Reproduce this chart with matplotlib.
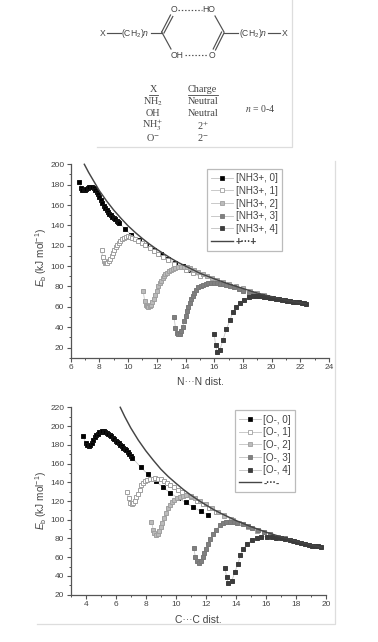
import matplotlib
matplotlib.use("Agg")
import matplotlib.pyplot as plt
from matplotlib.lines import Line2D
from matplotlib.ticker import MultipleLocator

plt.rcParams['font.family'] = ['Liberation Sans', 'DejaVu Sans']
plt.rcParams['mathtext.fontset'] = 'custom'
plt.rcParams['mathtext.rm'] = 'Liberation Sans'
plt.rcParams['mathtext.it'] = 'Liberation Sans:italic'

W, H = 378, 642
TXT = '#444444'
AX = '#555555'

# ---------- upper chart data ----------
n0_x = [6.6, 6.72, 6.8, 6.9, 7.0, 7.1, 7.2, 7.3, 7.4, 7.5, 7.6, 7.7, 7.8, 7.9, 8.0, 8.1, 8.2, 8.3, 8.4, 8.5, 8.6, 8.7, 8.8, 8.9, 9.0, 9.1, 9.2, 9.3, 9.4, 9.77, 10.2, 10.74, 11.23, 11.78, 12.27, 12.78, 13.3, 13.8, 14.33]
n0_y = [183, 177, 175, 175, 175, 176, 177, 178, 178, 178, 177, 175, 173, 171, 168, 165, 162, 159, 157, 155, 153, 151, 150, 148, 147, 146, 144, 143, 142, 136.7, 130.8, 125.5, 120.6, 116, 111.7, 107, 103, 100, 96]
n1_x = [8.15, 8.22, 8.3, 8.38, 8.45, 8.55, 8.65, 8.75, 8.85, 8.95, 9.05, 9.15, 9.25, 9.35, 9.45, 9.55, 9.7, 9.85, 10.0, 10.15, 10.3, 10.5, 10.7, 10.95, 11.2, 11.5, 11.8, 12.1, 12.45, 12.8, 13.2, 13.6, 14.0, 14.5, 15.0]
n1_y = [116, 109, 105, 103.5, 103, 103.5, 105, 107, 110, 113, 116, 119, 121, 123, 125, 126.5, 128, 129, 129.5, 129, 128, 126.5, 125, 123, 120.5, 117.5, 114.5, 112, 108.5, 105.5, 102.5, 99, 96.5, 93, 90]
n2_x = [11.05, 11.15, 11.25, 11.33, 11.4, 11.5, 11.6, 11.7, 11.8, 11.9, 12.0, 12.1, 12.2, 12.3, 12.4, 12.5, 12.6, 12.7, 12.85, 13.0, 13.15, 13.3, 13.5, 13.7, 13.9, 14.1, 14.3, 14.6, 14.9, 15.2, 15.5, 15.85, 16.2, 16.6, 17.0, 17.5, 18.0, 18.5, 19.0, 19.5]
n2_y = [76, 66, 62, 60.5, 60, 60.5, 62, 65, 68, 72, 76, 80, 83, 85.5, 88, 90, 92, 93.5, 95, 96.5, 97.5, 98.5, 99, 99.5, 99.5, 99, 98, 96.5, 94, 92, 90.5, 88.5, 86.5, 84, 82.5, 80, 78, 75.5, 74, 72]
n3_x = [13.2, 13.3, 13.4, 13.5, 13.6, 13.7, 13.8, 13.9, 14.0, 14.1, 14.2, 14.3, 14.4, 14.5, 14.6, 14.75, 14.9, 15.05, 15.2, 15.4, 15.6, 15.8, 16.0, 16.2, 16.4, 16.6, 16.85, 17.1, 17.4, 17.7, 18.0, 18.4, 18.8, 19.2, 19.6, 20.0]
n3_y = [50, 39, 34, 33, 33.5, 36, 40, 46, 51, 56, 60, 64, 68, 71, 74, 77, 79, 80.5, 81.5, 82.5, 83, 83, 83, 83, 82.5, 82, 81.5, 80.5, 79, 77.5, 76, 74, 72.5, 71, 69.5, 68.5]
n4_x = [16.0, 16.1, 16.2, 16.4, 16.6, 16.85, 17.1, 17.3, 17.55, 17.8, 18.1, 18.45, 18.7, 18.9, 19.1, 19.3, 19.5, 19.7, 19.9, 20.1, 20.3, 20.5, 20.7, 20.9, 21.1, 21.3, 21.5, 21.7, 21.9, 22.1, 22.25, 22.4]
n4_y = [33, 22, 15.5, 18, 27, 38, 47, 55, 60, 64, 67, 70, 70.5, 71, 71, 70.5, 70, 69.5, 69, 68.5, 68, 67.5, 67, 66.5, 66, 65.5, 65, 64.8, 64.3, 64, 63.6, 63.2]
n_curve_x = [6.95, 7.25, 7.5, 8, 8.5, 9, 9.5, 10, 10.5, 11, 11.5, 12, 12.5, 13, 13.5, 14, 15, 16, 17, 18, 19, 20, 21, 22.4]
n_curve_y = [200, 192, 186, 174, 164, 155, 147, 139.5, 133, 127, 121.5, 116.5, 112, 107.5, 103.5, 100, 93, 87.5, 82.5, 78, 73.5, 70, 66.5, 63]
n_labels = ['[NH3+, 0]', '[NH3+, 1]', '[NH3+, 2]', '[NH3+, 3]', '[NH3+, 4]']
n_curve_label = '+···+'
n_xticks = [6, 8, 10, 12, 14, 16, 18, 20, 22, 24]
n_yticks = [20, 40, 60, 80, 100, 120, 140, 160, 180, 200]

# ---------- lower chart data ----------
o0_x = [3.82, 4.0, 4.1, 4.2, 4.3, 4.4, 4.5, 4.6, 4.7, 4.8, 4.9, 5.0, 5.1, 5.2, 5.3, 5.4, 5.5, 5.6, 5.7, 5.8, 5.9, 6.0, 6.1, 6.2, 6.3, 6.4, 6.5, 6.6, 6.7, 6.8, 6.9, 7.0, 7.1, 7.65, 8.13, 8.65, 9.13, 9.6, 10.13, 10.65, 11.13, 11.65, 12.15]
o0_y = [189.3, 182, 180, 179, 180, 182, 185, 188, 190.5, 192, 193.5, 194, 194.5, 194.6, 194, 193, 192, 190.5, 189, 187.5, 186, 184.5, 183, 181.5, 180, 178.5, 177, 175.5, 174, 172.5, 170.5, 168.5, 166, 156.4, 148.6, 141.4, 134.7, 129, 123.2, 118.6, 113.6, 109.3, 105]
o1_x = [6.73, 6.85, 6.95, 7.07, 7.17, 7.27, 7.38, 7.48, 7.6, 7.7, 7.82, 7.95, 8.1, 8.27, 8.45, 8.6, 8.8, 9.0, 9.2, 9.4, 9.6, 9.85, 10.13, 10.4, 10.7, 11.0, 11.4, 11.8, 12.2, 12.7, 13.2, 13.8]
o1_y = [129.7, 123, 118, 116.5, 117.5, 120, 124, 128, 132, 137, 139, 141, 142.5, 143, 144, 144.5, 144, 143, 141.5, 139, 137, 134.5, 132, 129.5, 126.5, 124, 120, 116.5, 113, 108.5, 105, 100]
o2_x = [8.38, 8.5, 8.58, 8.67, 8.78, 8.88, 8.98, 9.08, 9.2, 9.33, 9.47, 9.6, 9.75, 9.9, 10.05, 10.25, 10.45, 10.7, 11.0, 11.3, 11.6, 12.0, 12.4, 12.8, 13.2, 13.7, 14.2, 14.8, 15.4]
o2_y = [98, 89, 86, 84, 85, 88, 92.5, 97, 102, 107, 113, 116, 119, 121, 123, 124.5, 125.5, 126, 125.5, 123.5, 120.5, 116.5, 112, 108, 104.5, 100.5, 96.5, 92, 88]
o3_x = [11.2, 11.3, 11.42, 11.53, 11.65, 11.8, 11.9, 12.0, 12.15, 12.3, 12.5, 12.7, 12.95, 13.15, 13.35, 13.6, 13.85, 14.1, 14.47, 14.8, 15.1, 15.5, 15.9, 16.3, 16.8, 17.3, 17.8]
o3_y = [70, 60, 56, 54, 55.5, 60, 64, 68.5, 74, 79, 85, 89.5, 94, 96, 97.5, 98, 98, 97, 95, 93, 91, 89, 87, 85, 82, 80, 77.5]
o4_x = [13.27, 13.38, 13.5, 13.73, 13.93, 14.13, 14.3, 14.5, 14.75, 15.05, 15.4, 15.7, 16.05, 16.4, 16.7, 17.0, 17.3, 17.6, 17.85, 18.1, 18.35, 18.6, 18.85, 19.1, 19.3, 19.5, 19.7]
o4_y = [49, 39, 32.5, 35, 44, 53, 62, 69, 74, 78, 81, 82, 82, 81.5, 81, 80.5, 79, 78, 77, 76, 75, 74, 73.5, 72.5, 72, 71.5, 71]
o_curve_x = [6.3, 6.6, 7, 7.5, 8, 8.5, 9, 9.5, 10, 10.5, 11, 11.5, 12, 12.5, 13, 14, 15, 16, 17, 18, 19, 19.7]
o_curve_y = [220, 210, 198, 185, 173.6, 163.5, 154, 146, 139, 132.3, 126.3, 120.8, 115.8, 111, 106.8, 99.2, 92.6, 86.8, 81.7, 77.2, 73.1, 70.5]
o_labels = ['[O-, 0]', '[O-, 1]', '[O-, 2]', '[O-, 3]', '[O-, 4]']
o_curve_label = '-···-'
o_xticks = [4, 6, 8, 10, 12, 14, 16, 18, 20]
o_yticks = [20, 40, 60, 80, 100, 120, 140, 160, 180, 200, 220]

face = ['#000000', '#ffffff', '#bbbbbb', '#808080', '#3c3c3c']
edge = ['#111111', '#a0a0a0', '#a0a0a0', '#787878', '#3c3c3c']
CURVE = '#454545'


def box(l, t, r, b):
    return [l / W, 1 - b / H, (r - l) / W, (b - t) / H]


fig = plt.figure(figsize=(W / 100, H / 100), dpi=100, facecolor='white')


def chart(rect, xs, ys, cx, cy, labels, clabel, xlim, ylim, xticks, yticks,
          xlabel, legend_box, xlab_xy, ylab_xy):
    ax = fig.add_axes(box(*rect))
    ax.patch.set_alpha(0)
    for x, y, fc, ec in zip(xs, ys, face, edge):
        ax.plot(x, y, '-', color='#c8c8c8', lw=0.6, marker='s', ms=3.5,
                mfc=fc, mec=ec, mew=0.7, clip_on=False)
    ax.plot(cx, cy, '-', color=CURVE, lw=1.05, clip_on=False)
    ax.set_xlim(*xlim)
    ax.set_ylim(*ylim)
    ax.set_xticks(xticks)
    ax.set_yticks(yticks)
    ax.xaxis.set_minor_locator(MultipleLocator(1))
    ax.yaxis.set_minor_locator(MultipleLocator(10))
    ax.tick_params(which='major', length=3, width=0.8, color=AX, labelsize=6,
                   labelcolor=TXT, pad=1.6)
    ax.tick_params(which='minor', length=1.6, width=0.7, color=AX)
    for s in ('top', 'right'):
        ax.spines[s].set_visible(False)
    for s in ('left', 'bottom'):
        ax.spines[s].set_color(AX)
        ax.spines[s].set_linewidth(0.9)
    fig.text(xlab_xy[0] / W, 1 - xlab_xy[1] / H, xlabel, fontsize=7.4,
             color=TXT, ha='center', va='center')
    fig.text(ylab_xy[0] / W, 1 - ylab_xy[1] / H, r'$E_{\mathrm{b}}$ (kJ mol$^{-1}$)',
             fontsize=7.2, color=TXT, ha='center', va='center', rotation=90)
    handles = [Line2D([], [], color='#c0c0c0', lw=0.6, marker='s', ms=3, mfc=fc,
                      mec=ec, mew=0.6) for fc, ec in zip(face, edge)]
    handles.append(Line2D([], [], color=CURVE, lw=1.0))
    l, t, r, b = legend_box
    leg = ax.legend(handles, labels + [clabel], loc='center',
                    bbox_to_anchor=((l + r) / 2 / W, 1 - (t + b) / 2 / H),
                    bbox_transform=fig.transFigure, fontsize=7.1, frameon=True,
                    fancybox=False, edgecolor='#bbbbbb', framealpha=1,
                    handlelength=2.2, handletextpad=0.25, labelspacing=0.27,
                    borderpad=0.42, borderaxespad=0, labelcolor=TXT)
    leg.get_frame().set_linewidth(0.9)
    leg.get_texts()[-1].set_fontweight('bold')
    return ax


chart((70.7, 164.3, 329, 357.7), [n0_x, n1_x, n2_x, n3_x, n4_x],
      [n0_y, n1_y, n2_y, n3_y, n4_y], n_curve_x, n_curve_y, n_labels,
      n_curve_label, (6, 24), (10, 200), n_xticks, n_yticks, 'N···N dist.',
      (206, 170.7, 283, 249), (200, 382), (41, 257))
chart((70.7, 407.3, 326, 594.7), [o0_x, o1_x, o2_x, o3_x, o4_x],
      [o0_y, o1_y, o2_y, o3_y, o4_y], o_curve_x, o_curve_y, o_labels,
      o_curve_label, (3, 20), (20, 220), o_xticks, o_yticks, 'C···C dist.',
      (234, 411.7, 296, 490.7), (198, 620), (41, 500))

# ---------- structure panel, page rules ----------
pg = fig.add_axes([0, 0, 1, 1], zorder=-1)
pg.set_xlim(0, W)
pg.set_ylim(H, 0)
pg.axis('off')
RULE = '#dddddd'
pg.plot([97, 292.3, 292.3], [147, 147, 0], color=RULE, lw=0.9)
pg.plot([335, 335, 37], [161, 624, 624], color=RULE, lw=0.9)

BOND = '#505050'
segs = [((107.3, 120.7), (33, 33)), ((150.7, 161.7), (33, 33)),
        ((224, 238.3), (33, 33)), ((268, 280), (33, 33)),
        ((161.7, 171), (32, 49)), ((224, 215), (32, 16)),
        ((161.7, 170.5), (32, 15)), ((164, 172.8), (33, 16.5)),
        ((224, 215.5), (33, 50)), ((221.6, 213.2), (32, 49))]
for sx, sy in segs:
    pg.plot(sx, sy, color=BOND, lw=0.85)
pg.plot([178.3, 201.7], [9.5, 9.5], color=BOND, lw=0.85, ls=(0, (1.2, 1.6)))
pg.plot([185, 206.7], [55, 55], color=BOND, lw=0.85, ls=(0, (1.2, 1.6)))

chem = [(102.3, 33, 'X'), (135, 33, r'(CH$_2$)$\mathit{n}$'), (174, 10, 'O'), (209, 10, 'HO'),
        (253.3, 33, r'(CH$_2$)$\mathit{n}$'), (285, 33, 'X'), (176.7, 55, 'OH'), (212.3, 55, 'O')]
for x, y, s in chem:
    pg.text(x, y, s, fontsize=6.2, color=TXT, ha='center', va='center')

table = [(153, 90, 'X'), (202.7, 90, 'Charge'),
         (153, 101.7, r'NH$_2$'), (202.7, 101.7, 'Neutral'),
         (153, 113.7, 'OH'), (202.7, 113.7, 'Neutral'),
         (153, 125, r'NH$_3^{+}$'), (202.7, 125.7, r'2$^{+}$'),
         (153, 137.8, r'O$^{-}$'), (202.7, 137.3, r'2$^{-}$')]
for x, y, s in table:
    pg.text(x, y, s, fontsize=7.3, color=TXT, ha='center', va='center',
            family=['Liberation Serif'], math_fontfamily='stix')
pg.plot([148.5, 157.5], [95, 95], color=TXT, lw=0.6)
pg.plot([188, 217.5], [95, 95], color=TXT, lw=0.6)
pg.text(260, 109, r'$\mathit{n}$ = 0-4', fontsize=7.0, color=TXT, ha='center', va='center',
        family=['Liberation Serif'], math_fontfamily='stix')

fig.savefig('out.png', dpi=100, facecolor='white')
